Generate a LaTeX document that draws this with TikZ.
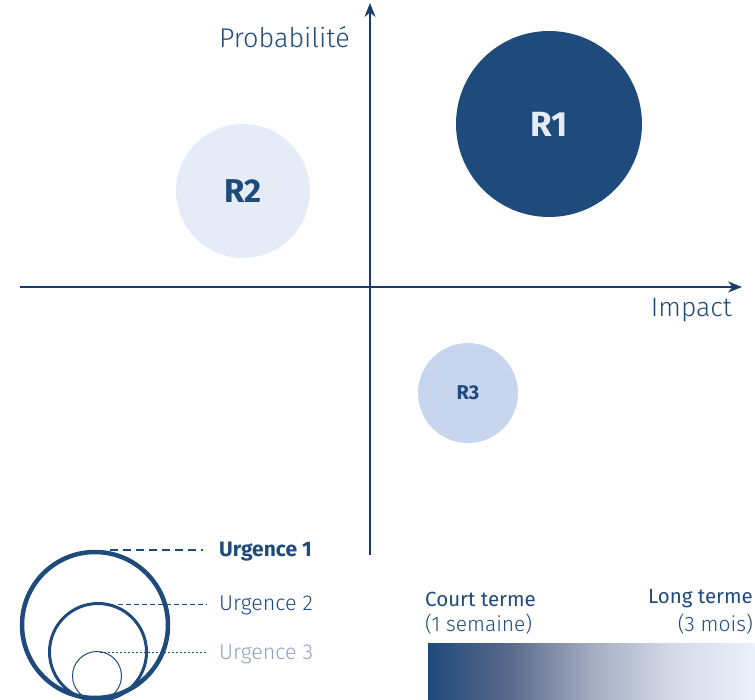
\documentclass[tikz,border=0pt]{standalone}
\usepackage{fontspec}
\setmainfont{Fira Sans Light}[BoldFont=Fira Sans Bold]
\newfontfamily\regfont{Fira Sans}
\usetikzlibrary{arrows.meta}
\definecolor{navy}{HTML}{1F4A7C}
\definecolor{axis}{HTML}{173D70}
\definecolor{pale}{HTML}{E6ECF7}
\definecolor{mid}{HTML}{C8D5EE}
\definecolor{grey3}{HTML}{8FA3C4}
\definecolor{gA}{HTML}{5A6A8C}
\definecolor{gB}{HTML}{A4ACC1}
\definecolor{gC}{HTML}{D4DAE7}
\definecolor{gradend}{HTML}{EBF0FA}
\pgfdeclarehorizontalshading{urgshade}{100bp}{color(0bp)=(navy); color(25bp)=(navy); color(37.5bp)=(gA); color(50bp)=(gB); color(62.5bp)=(gC); color(75bp)=(gradend); color(100bp)=(gradend)}
\tikzset{
  axisline/.style={draw=axis, line width=2pt, -{Stealth[length=14pt,width=11pt]}},
  lbl/.style={text=navy, inner sep=0pt},
  risk/.style={circle, inner sep=0pt, font=\bfseries},
}
\begin{document}
\begin{tikzpicture}[x=1pt,y=-1pt]
\useasboundingbox (0,0) rectangle (755,700);
% risks
\node[risk, fill=navy, minimum size=186pt, text=pale, font=\bfseries\fontsize{35}{38}\selectfont] (r1) at (549,124) {R1};
\node[risk, fill=pale, minimum size=134pt, text=navy, font=\bfseries\fontsize{33}{36}\selectfont] (r2) at (243,191) {R2};
\node[risk, fill=mid, minimum size=100pt, text=navy, font=\bfseries\fontsize{20}{22}\selectfont] (r3) at (468,393) {R3};
% axes
\coordinate (vb) at (370,555);
\coordinate (vt) at (370,3);
\coordinate (hl) at (20,287);
\coordinate (hr) at (742,287);
\draw[axisline] (vb) -- (vt);
\draw[axisline] (hl) -- (hr);
\node[lbl, font=\fontsize{27}{30}\selectfont, anchor=east] (prob) at (350,37) {Probabilité};
\node[lbl, font=\fontsize{26.5}{30}\selectfont, anchor=east] (imp) at (732,310) {Impact};
% legend circles
\node[circle, draw=navy, line width=4.5pt, minimum size=146pt, inner sep=0pt] (c1) at (95,625) {};
\node[circle, draw=navy, line width=3pt, minimum size=97pt, inner sep=0pt] (c2) at (98,652) {};
\node[circle, draw=navy, line width=1pt, minimum size=49pt, inner sep=0pt] (c3) at (97,676) {};
\node[lbl, font=\bfseries\fontsize{21}{24}\selectfont, anchor=west] (u1) at (219,552) {Urgence 1};
\node[lbl, font=\fontsize{21.5}{24}\selectfont, anchor=west] (u2) at (219,605) {Urgence 2};
\node[lbl, text=grey3, font=\fontsize{21.5}{24}\selectfont, anchor=west] (u3) at (219,654) {Urgence 3};
\coordinate (d1) at (110,550);
\coordinate (d2) at (118,604);
\coordinate (d3) at (100,652);
\draw[navy, line width=1.5pt, dash pattern=on 8pt off 5pt] (d1) -- (203,550);
\draw[navy, line width=1pt, dash pattern=on 5pt off 3pt] (d2) -- (207,604);
\draw[navy, line width=0.8pt, dash pattern=on 2pt off 2pt] (d3) -- (207,652);
% gradient bar
\shade[shading=urgshade] (428,643) rectangle (755,700);
\node[lbl, font=\regfont\fontsize{20.5}{24}\selectfont, anchor=west] (ct) at (425,599) {Court terme};
\node[lbl, font=\fontsize{21}{24}\selectfont, anchor=west] (cs) at (425,624) {(1 semaine)};
\node[lbl, font=\regfont\fontsize{20.5}{24}\selectfont, anchor=east] (lt) at (753,599) {Long terme};
\node[lbl, font=\fontsize{21}{24}\selectfont, anchor=east] (lm) at (753,624) {(3 mois)};
\end{tikzpicture}
\end{document}
